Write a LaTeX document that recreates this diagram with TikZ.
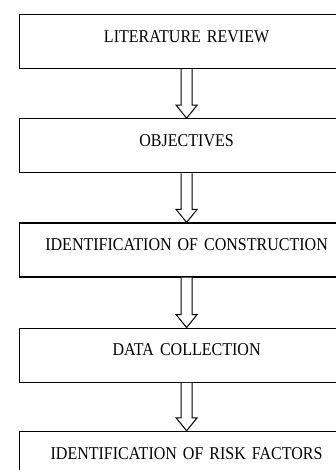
\documentclass[tikz,border=0pt]{standalone}
\usepackage{fontspec}
\setmainfont{Liberation Serif}[FakeStretch=0.89]
\usetikzlibrary{positioning,calc}

\newcommand{\hollowarrow}[2]{%
    \draw[line width=1pt, line join=miter, fill=white] ($(#1.south)+(-5.5pt,0)$) -- ($(#2.north)+(-5.5pt,13pt)$) -- ++(-5pt,0) -- (#2.north) -- ($(#2.north)+(10.5pt,13pt)$) -- ++(-5pt,0) -- ($(#1.south)+(5.5pt,0)$);
}

\begin{document}
\begin{tikzpicture}[
    box/.style={draw, line width=1.2pt, inner sep=0pt, text width=334pt, align=center,
        text height=27.7pt, text depth=26.3pt, font=\fontsize{18}{20}\selectfont},
]
    \clip (0,0) rectangle (336pt,-470pt);
    \node[box, anchor=north west] (review) at (19pt,-14pt) {LITERATURE REVIEW};
    \node[box, below=49pt of review] (objectives) {OBJECTIVES};
    \node[box, below=49pt of objectives] (construction) {IDENTIFICATION OF CONSTRUCTION};
    \node[box, below=50pt of construction] (collection) {DATA COLLECTION};
    \node[box, below=48pt of collection] (risk) {IDENTIFICATION OF RISK FACTORS};
    % arrows between the stages
    \hollowarrow{review}{objectives}
    \hollowarrow{objectives}{construction}
    \hollowarrow{construction}{collection}
    \hollowarrow{collection}{risk}
\end{tikzpicture}
\end{document}
